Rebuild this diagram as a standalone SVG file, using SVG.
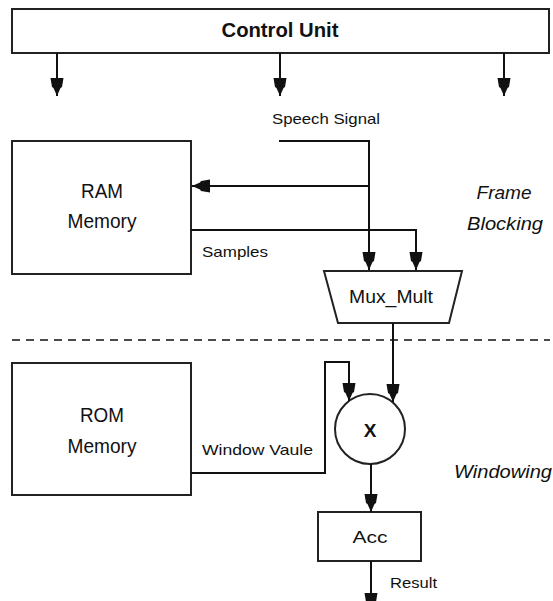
<svg xmlns="http://www.w3.org/2000/svg" width="553" height="601" viewBox="0 0 553 601">
<style>
.box{fill:#fff;stroke:#222;stroke-width:2}
.ln{fill:none;stroke:#111;stroke-width:2}
.arr{marker-end:url(#ah)}
.t{font-family:"Liberation Sans",Arial,sans-serif;fill:#111}
.it{font-family:"Liberation Sans",Arial,sans-serif;font-style:italic;fill:#111}
</style>
<defs>
<marker id="ah" markerUnits="userSpaceOnUse" viewBox="0 -7 19 14" markerWidth="19" markerHeight="14" refX="18" refY="0" orient="auto" overflow="visible">
<path d="M0,-6.5 L9,-5 L10,-3.5 L18,0 L10,3.5 L9,5 L0,6.5 Z" fill="#111"/>
</marker>
</defs>
<rect width="553" height="601" fill="#fff"/>

<g id="control-unit">
<rect class="box" x="12" y="9" width="537" height="44"/>
<text class="t" x="280" y="37" font-size="20" font-weight="bold" text-anchor="middle" textLength="117" lengthAdjust="spacingAndGlyphs">Control Unit</text>
</g>

<g id="ram">
<rect class="box" x="12" y="141" width="179" height="133"/>
<text class="t" x="102" y="198" font-size="20" text-anchor="middle" textLength="42" lengthAdjust="spacingAndGlyphs">RAM</text>
<text class="t" x="102" y="228" font-size="20" text-anchor="middle" textLength="69" lengthAdjust="spacingAndGlyphs">Memory</text>
</g>

<g id="rom">
<rect class="box" x="12" y="363" width="179" height="132"/>
<text class="t" x="102" y="422" font-size="20" text-anchor="middle" textLength="44" lengthAdjust="spacingAndGlyphs">ROM</text>
<text class="t" x="102" y="453" font-size="20" text-anchor="middle" textLength="69" lengthAdjust="spacingAndGlyphs">Memory</text>
</g>

<g id="mux-mult">
<polygon class="box" points="324,271 462,271 449,323 338,323"/>
<text class="t" x="391" y="303" font-size="19" text-anchor="middle" textLength="84" lengthAdjust="spacingAndGlyphs">Mux_Mult</text>
</g>

<g id="multiplier">
<circle class="box" cx="370" cy="429" r="35"/>
<text class="t" x="370" y="437" font-size="19" font-weight="bold" text-anchor="middle">X</text>
</g>

<g id="acc">
<rect class="box" x="318" y="512" width="103" height="49"/>
<text class="t" x="370" y="543" font-size="17" text-anchor="middle" textLength="35" lengthAdjust="spacingAndGlyphs">Acc</text>
</g>

<g id="labels">
<text class="it" x="504" y="199" font-size="19" text-anchor="middle" textLength="55" lengthAdjust="spacingAndGlyphs">Frame</text>
<text class="it" x="505" y="230" font-size="19" text-anchor="middle" textLength="76" lengthAdjust="spacingAndGlyphs">Blocking</text>
<text class="it" x="503" y="478" font-size="19" text-anchor="middle" textLength="98" lengthAdjust="spacingAndGlyphs">Windowing</text>
<text class="t" x="272" y="124" font-size="14.5" textLength="108" lengthAdjust="spacingAndGlyphs">Speech Signal</text>
<text class="t" x="202" y="257" font-size="14.5" textLength="66" lengthAdjust="spacingAndGlyphs">Samples</text>
<text class="t" x="202" y="455" font-size="14.5" textLength="111" lengthAdjust="spacingAndGlyphs">Window Vaule</text>
<text class="t" x="390" y="588" font-size="14.5" textLength="47" lengthAdjust="spacingAndGlyphs">Result</text>
</g>

<g id="connectors">
<line class="ln arr" x1="57" y1="53" x2="57" y2="96"/>
<line class="ln arr" x1="280" y1="53" x2="280" y2="96"/>
<line class="ln arr" x1="504" y1="53" x2="504" y2="96"/>
<polyline class="ln arr" points="279,141 369,141 369,270"/>
<polyline class="ln arr" points="370,186 192,186"/>
<polyline class="ln arr" points="191,230 416,230 416,270"/>
<line x1="12" y1="340" x2="550" y2="340" stroke="#111" stroke-width="1.5" stroke-dasharray="8,6"/>
<line class="ln arr" x1="393" y1="323" x2="393" y2="402"/>
<polyline class="ln arr" points="191,473 325,473 325,362 349,362 349,401"/>
<line class="ln arr" x1="371" y1="464" x2="371" y2="512"/>
<line class="ln arr" x1="371" y1="561" x2="371" y2="611"/>
</g>
</svg>
